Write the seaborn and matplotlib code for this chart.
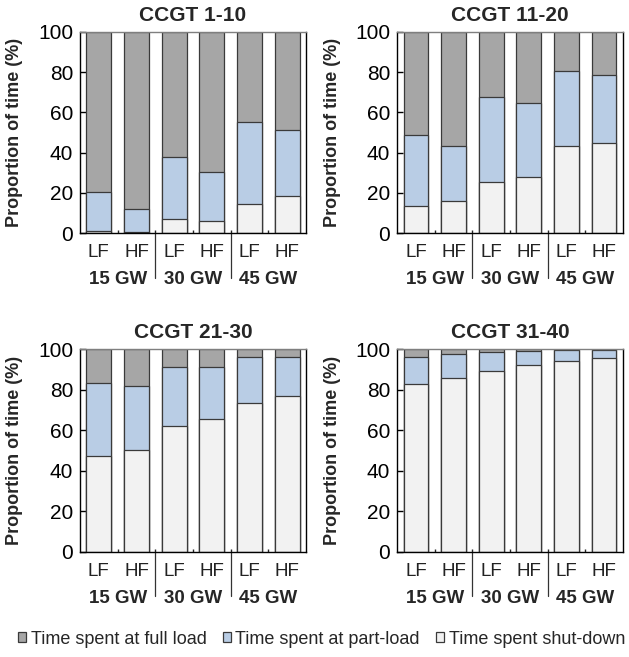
import matplotlib
matplotlib.use("Agg")
import matplotlib.pyplot as plt
from matplotlib.patches import Patch
import numpy as np
import pandas as pd
import seaborn as sns

# Scenario categories (capacity x flexibility)
capacities = ["15 GW", "30 GW", "45 GW"]
flex_labels = ["LF", "HF"]
panel_titles = ["CCGT 1-10", "CCGT 11-20", "CCGT 21-30", "CCGT 31-40"]

# Proportion of time (%) per operating state, per panel, in scenario order
shutdown = {
    "CCGT 1-10":  [1.0, 0.6, 6.9, 6.3, 14.4, 18.3],
    "CCGT 11-20": [13.4, 16.2, 25.6, 27.8, 43.5, 45.0],
    "CCGT 21-30": [47.3, 50.2, 62.1, 65.4, 73.6, 76.8],
    "CCGT 31-40": [82.7, 85.8, 89.5, 92.1, 94.2, 95.9],
}
part_load = {
    "CCGT 1-10":  [19.7, 11.5, 31.0, 24.3, 40.8, 32.8],
    "CCGT 11-20": [35.5, 27.1, 42.2, 36.8, 36.8, 33.7],
    "CCGT 21-30": [35.9, 31.7, 29.3, 25.7, 22.6, 19.4],
    "CCGT 31-40": [13.7, 11.7, 9.3, 7.2, 5.5, 3.9],
}
full_load = {
    "CCGT 1-10":  [79.3, 87.9, 62.1, 69.4, 44.8, 48.9],
    "CCGT 11-20": [51.1, 56.7, 32.2, 35.4, 19.7, 21.3],
    "CCGT 21-30": [16.8, 18.1, 8.6, 8.9, 3.8, 3.8],
    "CCGT 31-40": [3.6, 2.5, 1.2, 0.7, 0.3, 0.2],
}
legend_labels = ["Time spent at full load", "Time spent at part-load",
                 "Time spent shut-down"]

COL_FULL = "#A6A6A6"
COL_PART = "#B9CDE5"
COL_SHUT = "#F2F2F2"
EDGE = "#3a3a3a"

sns.set_theme(style="white")
plt.rcParams["font.family"] = ["Liberation Sans", "DejaVu Sans"]
plt.rcParams["axes.edgecolor"] = "black"

# Long table: one row per panel x scenario
scen = [f"{c} {f}" for c in capacities for f in flex_labels]
rows = []
for p in panel_titles:
    for i, s in enumerate(scen):
        rows.append({"panel": p, "scenario": s,
                     "shut": shutdown[p][i],
                     "part": part_load[p][i],
                     "full": full_load[p][i]})
df = pd.DataFrame(rows)
df["cum_part"] = df["shut"] + df["part"]
df["cum_full"] = df["cum_part"] + df["full"]

W, H = 629, 657
fig = plt.figure(figsize=(W / 100, H / 100), dpi=100)

# axes boxes in pixels: (left, top, right, bottom)
boxes = [(80, 31.7, 306, 233.3), (397.3, 31.7, 622.7, 233.3),
         (80, 349.3, 306, 551.7), (397.3, 349.3, 622.7, 551.7)]

for p, (l, t, r, b) in zip(panel_titles, boxes):
    ax = fig.add_axes([l / W, 1 - b / H, (r - l) / W, (b - t) / H])
    d = df[df["panel"] == p]
    kw = dict(x="scenario", order=scen, width=0.66, edgecolor=EDGE,
              linewidth=0.9, ax=ax, errorbar=None)
    sns.barplot(data=d, y="cum_full", color=COL_FULL, saturation=1, **kw)
    sns.barplot(data=d, y="cum_part", color=COL_PART, saturation=1, **kw)
    sns.barplot(data=d, y="shut", color=COL_SHUT, saturation=1, **kw)

    ax.set_xlim(-0.5, 5.5)
    ax.set_ylim(0, 100)
    ax.set_yticks(np.arange(0, 101, 20))
    ax.tick_params(axis="y", direction="in", length=4, width=1,
                   labelsize=15, pad=5, left=True, colors="black")
    ax.set_xticks(range(6))
    ax.set_xticklabels(flex_labels * 3, fontsize=13.5, color="#222222")
    ax.tick_params(axis="x", length=0, pad=8)
    ax.set_xticks([0.5, 1.5, 2.5, 3.5, 4.5], minor=True)
    ax.tick_params(axis="x", which="minor", direction="in", length=2.5,
                   width=1, bottom=True)
    for s in ax.spines.values():
        s.set_visible(True)
        s.set_color("black")
        s.set_linewidth(1.0)
    ax.spines["top"].set_color("#7f7f7f")

    ax.set_xlabel("")
    ax.set_ylabel("Proportion of time (%)", fontsize=13, fontweight="bold")
    ax.yaxis.set_label_coords(-0.25, 0.5)
    ax.set_title(p, fontsize=15, fontweight="bold", pad=8)

    # capacity group labels and separators beneath the category axis
    for gi, cap in enumerate(capacities):
        ax.annotate(cap, xy=(2 * gi + 0.5, 0), xycoords=("data", "axes fraction"),
                    xytext=(0, -33.5), textcoords="offset points",
                    ha="center", va="center", fontsize=13.5, fontweight="bold")
    for xb in (1.5, 3.5):
        ax.plot([xb, xb], [0, -0.22], color="#333333", lw=0.9,
                transform=ax.get_xaxis_transform(), clip_on=False)

handles = [Patch(facecolor=c, edgecolor=EDGE, linewidth=0.9)
           for c in (COL_FULL, COL_PART, COL_SHUT)]
fig.legend(handles, legend_labels, loc="center left",
           bbox_to_anchor=(18 / W, 1 - 639 / H), ncol=3, frameon=False,
           fontsize=13, handlelength=0.45, handleheight=0.45,
           handletextpad=0.25, columnspacing=0.9, borderpad=0,
           borderaxespad=0)

fig.savefig("out.png", dpi=100)
